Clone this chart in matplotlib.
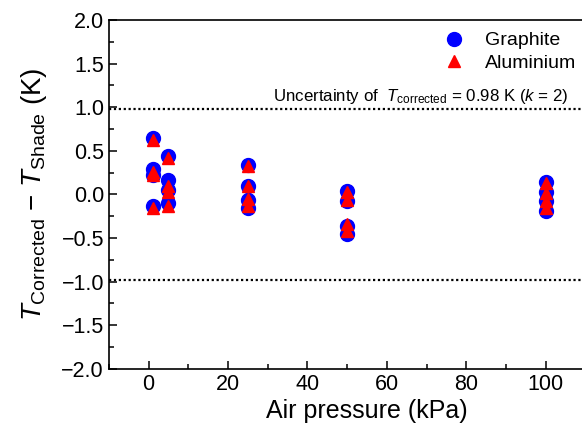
import numpy as np, matplotlib
matplotlib.use('Agg'); import matplotlib.pyplot as plt
from matplotlib.ticker import MultipleLocator

plt.rcParams['font.family'] = ['Liberation Sans', 'DejaVu Sans']
plt.rcParams['mathtext.fontset'] = 'custom'
plt.rcParams['mathtext.rm'] = 'Liberation Sans'
plt.rcParams['mathtext.it'] = 'Liberation Sans:italic'

# --- data (K)
pressure = [1, 1, 1, 1, 5, 5, 5, 5, 25, 25, 25, 25, 50, 50, 50, 50, 100, 100, 100, 100]
graphite = [0.65, 0.29, 0.22, -0.13, 0.44, 0.17, 0.05, -0.10,
            0.34, 0.10, -0.06, -0.15, 0.04, -0.07, -0.36, -0.45,
            0.14, 0.03, -0.08, -0.19]
aluminium = [0.63, 0.26, 0.22, -0.15, 0.42, 0.10, 0.03, -0.13,
             0.33, 0.10, -0.05, -0.13, 0.03, -0.06, -0.34, -0.42,
             0.13, 0.02, -0.07, -0.15]
xticks = [0, 20, 40, 60, 80, 100]
u_corr = 0.98

fig = plt.figure(figsize=(5.82, 4.36), dpi=100)
# original axes runs past the right edge of the picture (cropped)
ax = fig.add_axes([0.187, 0.154, 0.887, 0.80])

ax.plot(pressure, graphite, 'o', color='#0000ff', ms=10, ls='none', label='Graphite')
ax.plot(pressure, aluminium, '^', color='#ff0000', ms=9, ls='none', label='Aluminium')
ax.axhline(u_corr, color='k', ls=(0, (1, 1.2)), lw=1.6)
ax.axhline(-u_corr, color='k', ls=(0, (1, 1.2)), lw=1.6)
ax.text(105.8, u_corr + 0.04,
        r'Uncertainty of  $T_{\mathrm{corrected}}$ = 0.98 K ($k$ = 2)',
        ha='right', va='bottom', fontsize=12.2)

ax.set_xlim(-10, 120)
ax.set_ylim(-2, 2)
ax.set_xticks(xticks)
ax.xaxis.set_minor_locator(MultipleLocator(10))
ax.yaxis.set_major_locator(MultipleLocator(0.5))
ax.yaxis.set_minor_locator(MultipleLocator(0.25))
ax.yaxis.set_major_formatter(plt.FuncFormatter(lambda v, p: f'{v:.1f}'.replace('-', '\u2212')))
ax.tick_params(which='both', direction='in', labelsize=15.5, width=1.1)
ax.tick_params(which='major', length=6)
ax.tick_params(which='minor', length=3.5)
for s in ax.spines.values():
    s.set_linewidth(1.2)

ax.set_xlabel('Air pressure (kPa)', fontsize=18, labelpad=3)
ax.set_ylabel(r'$T_{\mathrm{Corrected}}$ $-$ $T_{\mathrm{Shade}}$ (K)', fontsize=20, labelpad=9)
ax.legend(loc='upper right', frameon=False, fontsize=14, handletextpad=0.6,
          borderaxespad=0.2, labelspacing=0.25,
          bbox_to_anchor=(1.01, 0.954), bbox_transform=fig.transFigure)

fig.savefig('out.png', dpi=100)
